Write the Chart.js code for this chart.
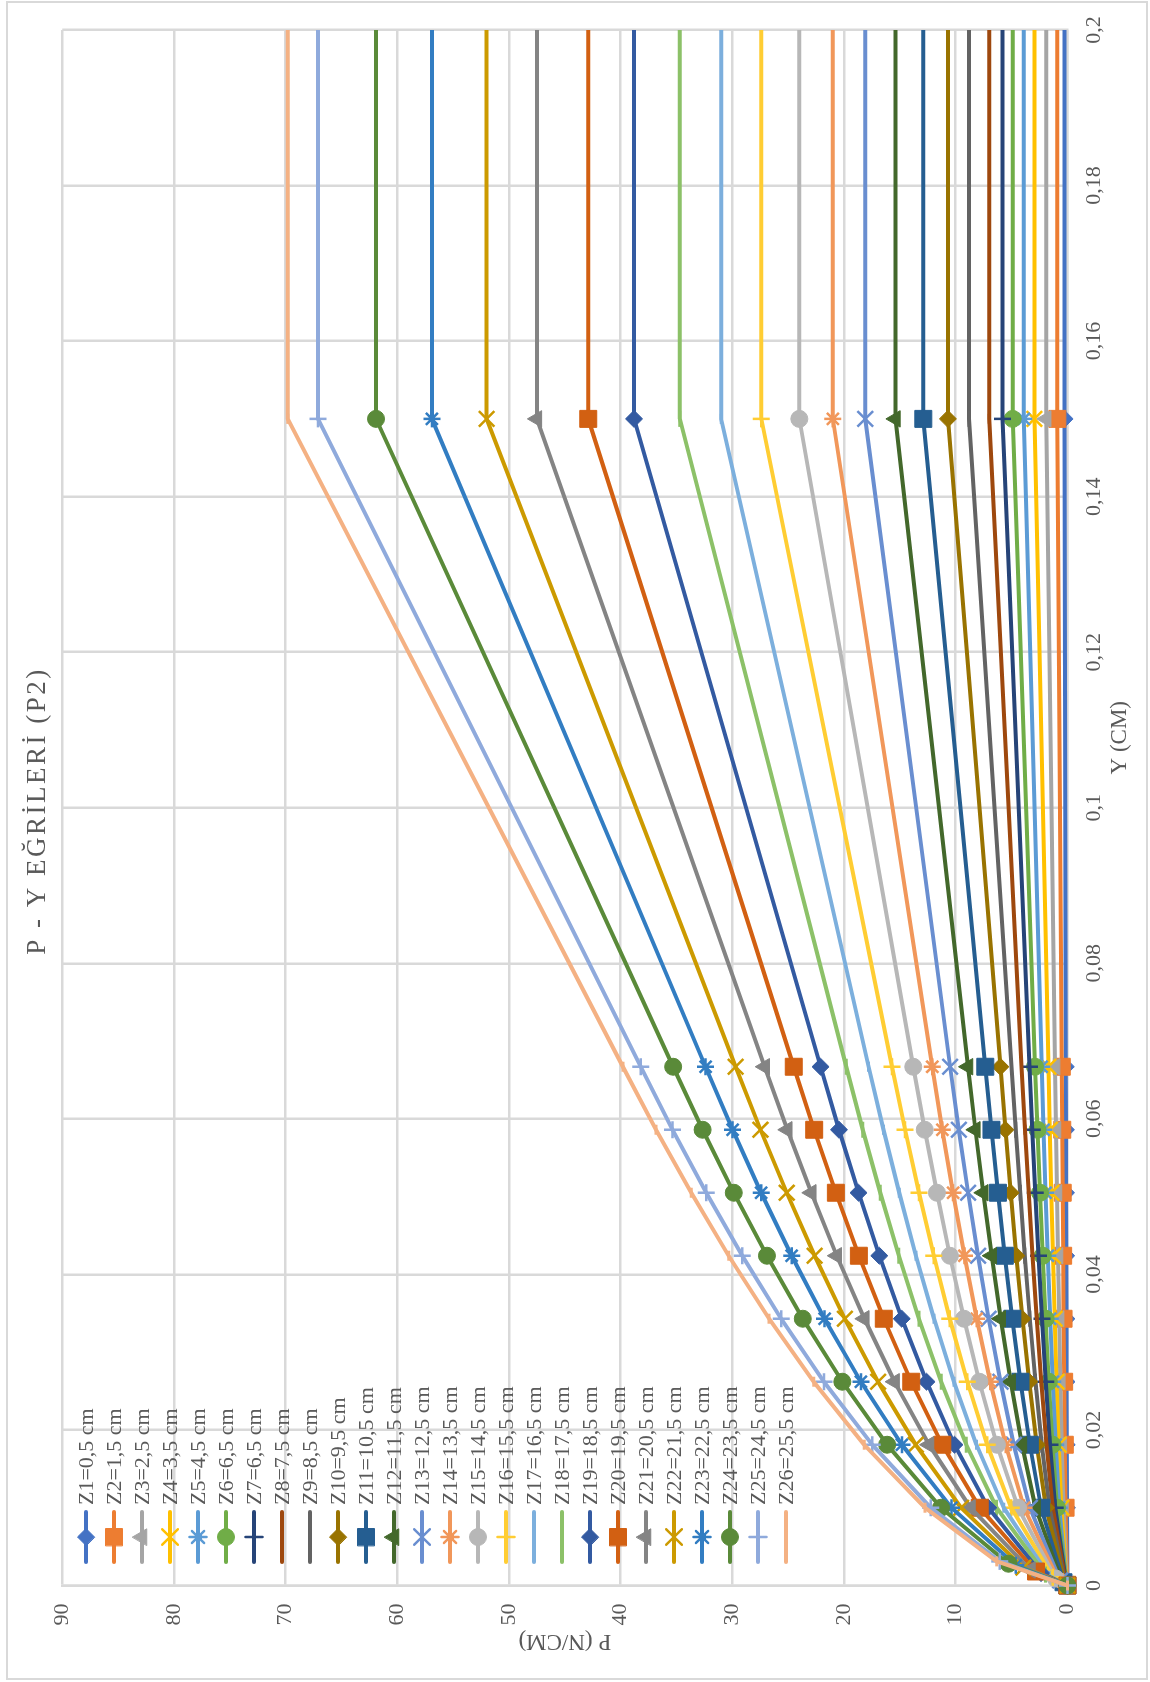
<!DOCTYPE html>
<html>
<head>
<meta charset="utf-8">
<title>P-Y Eğrileri (P2)</title>
<script src="https://cdn.jsdelivr.net/npm/chart.js"></script>
<style>
  html, body { margin: 0; padding: 0; background: #fff; }
  body { position: relative; width: 1150px; height: 1682px; overflow: hidden; }
  #frame { position: absolute; left: 6px; top: 1px; width: 1142px; height: 1679px; border: 2px solid #d9d9d9; box-sizing: border-box; }
  /* the chart is laid out landscape and turned a quarter turn to stand on the page */
  #wrap { position: absolute; left: 0; top: 0; width: 1682px; height: 1150px; transform-origin: 0 0; transform: translate(0, 1682px) rotate(-90deg); }
</style>
</head>
<body>
<div id="frame"></div>
<div id="wrap"><canvas id="pyChart" width="1682" height="1150"></canvas></div>
<script>
const depthLabels = [
    'Z1=0,5 cm', 'Z2=1,5 cm', 'Z3=2,5 cm', 'Z4=3,5 cm', 'Z5=4,5 cm', 'Z6=6,5 cm',
    'Z7=6,5 cm', 'Z8=7,5 cm', 'Z9=8,5 cm', 'Z10=9,5 cm', 'Z11=10,5 cm', 'Z12=11,5 cm',
    'Z13=12,5 cm', 'Z14=13,5 cm', 'Z15=14,5 cm', 'Z16=15,5 cm', 'Z17=16,5 cm', 'Z18=17,5 cm',
    'Z19=18,5 cm', 'Z20=19,5 cm', 'Z21=20,5 cm', 'Z22=21,5 cm', 'Z23=22,5 cm', 'Z24=23,5 cm',
    'Z25=24,5 cm', 'Z26=25,5 cm'
];

// displacement y (cm) shared by every curve after the first bend
const yShared = [0.0100, 0.0181, 0.0262, 0.0343, 0.0424, 0.0505, 0.0586, 0.0667, 0.15, 0.2];

// end of the initial straight part of each curve: y (cm) and p (N/cm)
const yK = [0.00005, 0.0001, 0.00013, 0.00017, 0.00018, 0.0002, 0.0002, 0.00022, 0.00027, 0.00032,
            0.00042, 0.00053, 0.00065, 0.00077, 0.00089, 0.00106, 0.00124, 0.0014, 0.0016, 0.0018,
            0.002, 0.0023, 0.0026, 0.0028, 0.0031, 0.0031];
const pK = [0.002, 0.01, 0.03, 0.05, 0.07, 0.09, 0.1, 0.13, 0.18, 0.24,
            0.35, 0.49, 0.65, 0.83, 1.04, 1.31, 1.63, 1.95, 2.36, 2.81,
            3.31, 3.94, 4.62, 5.27, 6.06, 6.32];

// p (N/cm) at each yShared value
const pZ1  = [0.04, 0.06, 0.08, 0.09, 0.11, 0.12, 0.13, 0.14, 0.25, 0.25];
const pZ2  = [0.16, 0.23, 0.29, 0.34, 0.38, 0.42, 0.46, 0.5, 0.9, 0.9];
const pZ3  = [0.35, 0.5, 0.63, 0.74, 0.84, 0.93, 1.02, 1.1, 1.9, 1.9];
const pZ4  = [0.54, 0.78, 0.97, 1.14, 1.3, 1.44, 1.57, 1.7, 2.95, 2.95];
const pZ5  = [0.74, 1.05, 1.31, 1.54, 1.75, 1.95, 2.13, 2.3, 3.9, 3.9];
const pZ6  = [0.93, 1.33, 1.66, 1.95, 2.21, 2.45, 2.68, 2.9, 4.9, 4.9];
const pZ7  = [1.09, 1.55, 1.94, 2.28, 2.59, 2.88, 3.15, 3.4, 5.8, 5.8];
const pZ8  = [1.31, 1.87, 2.34, 2.75, 3.12, 3.47, 3.79, 4.1, 7.0, 7.0];
const pZ9  = [1.6, 2.29, 2.85, 3.36, 3.81, 4.23, 4.63, 5.0, 8.8, 8.8];
const pZ10 = [1.92, 2.74, 3.42, 4.03, 4.57, 5.08, 5.55, 6.0, 10.7, 10.7];
const pZ11 = [2.35, 3.36, 4.2, 4.93, 5.6, 6.22, 6.8, 7.35, 12.9, 12.9];
const pZ12 = [2.85, 4.07, 5.08, 5.97, 6.78, 7.53, 8.24, 8.9, 15.4, 15.4];
const pZ13 = [3.36, 4.8, 5.99, 7.05, 8.0, 8.89, 9.72, 10.5, 18.1, 18.1];
const pZ14 = [3.88, 5.53, 6.91, 8.12, 9.22, 10.24, 11.2, 12.1, 21.0, 21.0];
const pZ15 = [4.42, 6.31, 7.88, 9.26, 10.52, 11.68, 12.77, 13.8, 24.0, 24.0];
const pZ16 = [5.03, 7.18, 8.96, 10.53, 11.96, 13.29, 14.53, 15.7, 27.4, 27.4];
const pZ17 = [5.7, 8.14, 10.16, 11.94, 13.56, 15.06, 16.47, 17.8, 31.0, 31.0];
const pZ18 = [6.34, 9.05, 11.3, 13.29, 15.09, 16.76, 18.32, 19.8, 34.7, 34.7];
const pZ19 = [7.08, 10.11, 12.61, 14.83, 16.84, 18.7, 20.45, 22.1, 38.8, 38.8];
const pZ20 = [7.85, 11.2, 13.98, 16.44, 18.67, 20.73, 22.67, 24.5, 42.9, 42.9];
const pZ21 = [8.68, 12.39, 15.47, 18.18, 20.65, 22.93, 25.08, 27.1, 47.5, 47.5];
const pZ22 = [9.51, 13.58, 16.95, 19.93, 22.63, 25.13, 27.48, 29.7, 52.0, 52.0];
const pZ23 = [10.38, 14.82, 18.49, 21.74, 24.69, 27.42, 29.98, 32.4, 56.9, 56.9];
const pZ24 = [11.31, 16.14, 20.15, 23.69, 26.9, 29.87, 32.66, 35.3, 61.9, 61.9];
const pZ25 = [12.24, 17.47, 21.8, 25.63, 29.11, 32.33, 35.35, 38.2, 67.1, 67.1];
const pZ26 = [12.75, 18.2, 22.72, 26.71, 30.33, 33.68, 36.83, 39.8, 69.8, 69.8];

const pSeries = [pZ1, pZ2, pZ3, pZ4, pZ5, pZ6, pZ7, pZ8, pZ9, pZ10, pZ11, pZ12, pZ13,
                 pZ14, pZ15, pZ16, pZ17, pZ18, pZ19, pZ20, pZ21, pZ22, pZ23, pZ24, pZ25, pZ26];

const xTicks = { min: 0, max: 0.2, step: 0.02 };
const yTicks = { min: 0, max: 90, step: 10 };

// office series colours, in order
const seriesColors = [
    '#4472C4', '#ED7D31', '#A5A5A5', '#FFC000', '#5B9BD5', '#70AD47',
    '#264478', '#9E480E', '#636363', '#997300', '#255E91', '#43682B',
    '#698ED0', '#F1975A', '#B7B7B7', '#FFCD33', '#7CAFDD', '#8CC168',
    '#335AA1', '#D26012', '#848484', '#CC9A00', '#327DC2', '#5A8A39',
    '#8FAADC', '#F4B183'
];

// marker sequence repeats every nine series
const markerCycle = [
    { style: 'rectRot', radius: 8.5, width: 1 },
    { style: 'rect', radius: 12, width: 1 },
    { style: 'triangle', radius: 9.5, width: 1 },
    { style: 'crossRot', radius: 11, width: 2.5 },
    { style: 'star', radius: 8.5, width: 2.5 },
    { style: 'circle', radius: 8.5, width: 1 },
    { style: 'cross', radius: 8.5, width: 2.5 },
    { style: 'line', radius: 5, width: 3 },
    { style: 'line', radius: 8, width: 3 }
];

const textColor = '#595959';
const gridColor = '#d9d9d9';
const serif = '"Liberation Serif", "Times New Roman", serif';

const datasets = depthLabels.map((label, i) => {
    const mark = markerCycle[i % markerCycle.length];
    const points = [{ x: 0, y: 0 }, { x: yK[i], y: pK[i] }]
        .concat(yShared.map((y, j) => ({ x: y, y: pSeries[i][j] })));
    const lastIndex = points.length - 1;
    return {
        label: label,
        data: points,
        showLine: true,
        borderColor: seriesColors[i],
        backgroundColor: seriesColors[i],
        borderWidth: 4,
        borderJoinStyle: 'round',
        pointStyle: mark.style,
        pointRadius: ctx => (ctx.dataIndex === lastIndex ? 0 : mark.radius),
        pointHoverRadius: mark.radius,
        pointBorderWidth: mark.width,
        pointBackgroundColor: seriesColors[i],
        pointBorderColor: seriesColors[i],
        order: depthLabels.length - 1 - i,
        clip: { left: 14, top: 14, right: 0, bottom: 14 },
        mark: mark
    };
});

// legend rows drawn over the plot: line, marker, then the depth label
const legendRows = {
    id: 'legendRows',
    afterDraw(chart) {
        const ctx = chart.ctx;
        const drawPoint = Chart.helpers && Chart.helpers.drawPoint;
        ctx.save();
        chart.data.datasets.forEach((ds, i) => {
            const y = 86 + i * 28;
            ctx.strokeStyle = ds.borderColor;
            ctx.lineWidth = 4;
            ctx.lineCap = 'round';
            ctx.beginPath();
            ctx.moveTo(120, y);
            ctx.lineTo(170, y);
            ctx.stroke();

            ctx.fillStyle = ds.borderColor;
            ctx.lineWidth = ds.mark.width;
            if (drawPoint) {
                drawPoint(ctx, { pointStyle: ds.mark.style, radius: ds.mark.radius, rotation: 0, borderWidth: ds.mark.width }, 145, y);
            }

            ctx.fillStyle = textColor;
            ctx.font = '22px ' + serif;
            ctx.textAlign = 'left';
            ctx.textBaseline = 'middle';
            ctx.fillText(ds.label, 177, y + 1);
        });
        ctx.restore();
    }
};

const ctx = document.getElementById('pyChart').getContext('2d');
const chart = new Chart(ctx, {
    type: 'scatter',
    data: { datasets: datasets },
    plugins: [legendRows],
    options: {
        responsive: false,
        animation: false,
        events: [],
        layout: { padding: { left: 0, right: 30, top: 0, bottom: 0 } },
        plugins: {
            legend: { display: false },
            tooltip: { enabled: false },
            title: {
                display: true,
                text: 'P - Y EĞRİLERİ (P2)',
                color: textColor,
                font: { family: serif, size: 27, weight: 'normal' },
                padding: { top: 22, bottom: 7.8 }
            }
        },
        scales: {
            x: {
                type: 'linear',
                position: 'bottom',
                min: xTicks.min,
                max: xTicks.max,
                ticks: {
                    stepSize: xTicks.step,
                    autoSkip: false,
                    maxRotation: 0,
                    padding: 14,
                    color: textColor,
                    font: { family: serif, size: 22 },
                    callback: v => String(+v.toFixed(2)).replace('.', ',')
                },
                grid: { color: gridColor, lineWidth: 2.5, drawTicks: false },
                border: { color: gridColor, width: 2.5 },
                title: {
                    display: true,
                    text: 'Y (CM)',
                    color: textColor,
                    font: { family: serif, size: 23 },
                    padding: { top: 0, bottom: 16 }
                },
                afterFit: scale => { scale.height = 82.6; }
            },
            y: {
                type: 'linear',
                position: 'left',
                min: yTicks.min,
                max: yTicks.max,
                ticks: {
                    stepSize: yTicks.step,
                    padding: 18,
                    color: textColor,
                    font: { family: serif, size: 22 }
                },
                grid: { color: gridColor, lineWidth: 2.5, drawTicks: false },
                border: { color: gridColor, width: 2.5 },
                title: {
                    display: true,
                    text: 'P (N/CM)',
                    color: textColor,
                    font: { family: serif, size: 23 },
                    padding: { top: 27, bottom: 0 }
                },
                afterFit: scale => { scale.width = 96.5; }
            }
        }
    }
});

// chart title sits over the plot centre with a little letter spacing
const titleBlock = chart.titleBlock;
const baseTitleDraw = titleBlock.draw.bind(titleBlock);
titleBlock.draw = function (area) {
    const c = chart.ctx;
    c.save();
    c.translate(45, 0);
    c.letterSpacing = '2.5px';
    baseTitleDraw(area);
    c.restore();
};

// the Y axis title is placed to the right of centre
const xScale = chart.scales.x;
const baseXTitle = xScale.drawTitle.bind(xScale);
xScale.drawTitle = function () {
    const c = chart.ctx;
    c.save();
    c.translate(70, 0);
    baseXTitle();
    c.restore();
};

chart.draw();
</script>
</body>
</html>
